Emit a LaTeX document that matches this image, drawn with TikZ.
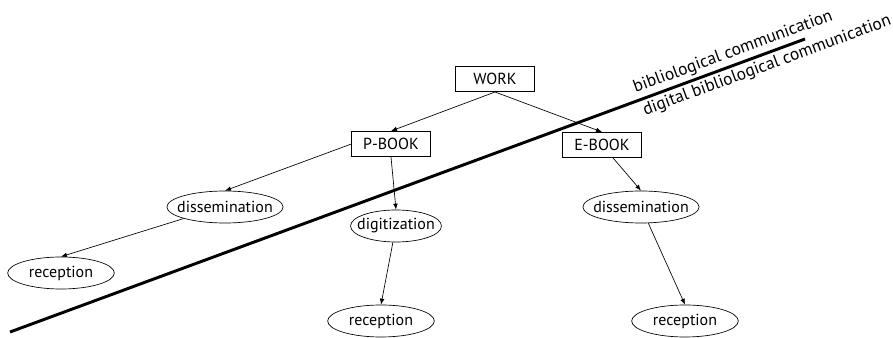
\documentclass[tikz,border=0pt]{standalone}
\usepackage{fontspec}
\setmainfont{PT Sans}
\usetikzlibrary{arrows.meta,shapes.geometric}
\begin{document}
\begin{tikzpicture}[x=0.75pt,y=-0.75pt,font=\fontsize{12}{14}\selectfont]
	\tikzset{
		box/.style={draw,line width=0.5pt,minimum width=59pt,minimum height=19pt,inner sep=1pt},
		stage/.style={draw,ellipse,line width=0.5pt,inner xsep=-5pt,inner ysep=0pt,minimum height=24pt},
		link/.style={line width=0.5pt,-{Latex[length=4.5pt,width=3.5pt]}},
		border/.style={line width=2.2pt},
		side/.style={sloped,inner sep=2.2pt,font=\fontsize{13}{15}\selectfont}
	}
	\useasboundingbox (0,0) rectangle (893,338);
	\path
	(10,332) coordinate (Lb)
	(805,39) coordinate (Rb);
	\node[box] (work) at (495,79) {WORK};
	\node[box] (pbook) at (391,144) {P-BOOK};
	\node[box] (ebook) at (602,145) {E-BOOK};
	\node[stage] (dissL) at (225,207) {dissemination};
	\node[stage] (digit) at (396,226) {digitization};
	\node[stage,minimum width=80pt] (recL) at (61,273) {reception};
	\node[stage,minimum width=80pt] (recM) at (381,321) {reception};
	\node[stage] (dissR) at (641,207) {dissemination};
	\node[stage,minimum width=80pt] (recR) at (685,321) {reception};
	% border between the two kinds of communication
	\draw[border] (Lb) -- (Rb)
		node[side,pos=0.915,above] {bibliological communication}
		node[side,pos=0.947,below] {digital bibliological communication};
	\draw[link] (work.south) -- (pbook.north);
	\draw[link] (work.south) -- (ebook.north);
	\draw[link] (pbook.west) -- (dissL.north);
	\draw[link] (pbook.south) -- (digit.north);
	\draw[link] (dissL.south west) -- (recL.north);
	\draw[link] (digit) -- (recM.north);
	\draw[link] (ebook) -- (dissR.north);
	\draw[link] (dissR) -- (recR.north);
\end{tikzpicture}
\end{document}
